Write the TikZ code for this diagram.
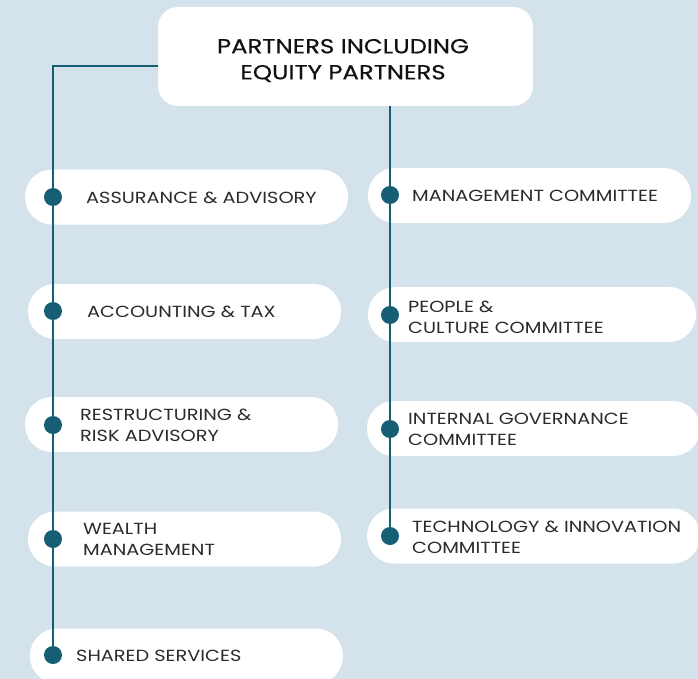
\documentclass[tikz,border=0pt]{standalone}
\usepackage{fontspec}
\setmainfont{Poppins}
\newfontfamily\labelfont[FakeStretch=1.2]{Poppins}
\newfontfamily\titlefont[FakeStretch=1.2, FakeBold=0.5]{Poppins}
\usetikzlibrary{calc}
\definecolor{bgblue}{HTML}{D4E2EB}
\definecolor{teal}{HTML}{155E73}
\definecolor{labelgray}{HTML}{2B2B2B}
\definecolor{titleink}{HTML}{111111}
\tikzset{
  pill/.style={fill=white, draw=none, rounded corners=27pt, minimum height=55pt, inner sep=0pt},
  headbox/.style={fill=white, draw=none, rounded corners=20pt, minimum width=375pt, minimum height=99pt, inner sep=0pt},
  dot/.style={circle, fill=teal, minimum size=18pt, inner sep=0pt},
  label/.style={anchor=west, inner sep=0pt, align=left, text=labelgray, font=\labelfont\fontsize{16.1}{21}\selectfont},
  title/.style={align=center, inner sep=0pt, text=titleink, font=\titlefont\fontsize{20.3}{26}\selectfont},
  link/.style={draw=teal, line width=2pt}
}
\begin{document}
\begin{tikzpicture}[x=1pt,y=-1pt]
  \useasboundingbox (0,0) rectangle (698,679);
  \clip (0,0) rectangle (698,679);
  \fill[bgblue] (0,0) rectangle (698,679);

  % head of the chart
  \node[headbox] (head) at (345.5,56.5) {};
  \node[title] (headtext) at (343,60.5) {PARTNERS INCLUDING\\ EQUITY PARTNERS};

  % service lines (left column)
  \node[pill, minimum width=323pt] (p1) at (186.5,197) {};
  \node[pill, minimum width=313pt] (p2) at (184.5,311.5) {};
  \node[pill, minimum width=313pt] (p3) at (181.5,424.5) {};
  \node[pill, minimum width=313pt] (p4) at (184.5,539) {};
  \node[pill, minimum width=313pt] (p5) at (186.5,656) {};

  % committees (right column)
  \node[pill, minimum width=323pt] (c1) at (529.5,195.5) {};
  \node[pill, minimum width=328pt] (c2) at (532,314.5) {};
  \node[pill, minimum width=333pt] (c3) at (533.5,428.5) {};
  \node[pill, minimum width=333pt] (c4) at (533.5,536) {};

  % connector spines
  \coordinate (lp1) at (53,197);
  \coordinate (lp2) at (53,311);
  \coordinate (lp3) at (53,425);
  \coordinate (lp4) at (53,539);
  \coordinate (lp5) at (53,655);
  \coordinate (rc1) at (390,195);
  \coordinate (rc2) at (390,315);
  \coordinate (rc3) at (390,429);
  \coordinate (rc4) at (390,536);

  \draw[link] ($(head.west)+(0,9.5)$) -| (lp5);
  \draw[link] (head.south -| rc1) -- (rc4);

  \foreach \d in {lp1,lp2,lp3,lp4,lp5,rc1,rc2,rc3,rc4}
    \node[dot] (dot-\d) at (\d) {};

  % labels
  \node[label] (t1) at (86,198) {ASSURANCE \& ADVISORY};
  \node[label] (t2) at (87,312) {ACCOUNTING \& TAX};
  \node[label] (t3) at (80,425) {RESTRUCTURING \&\\RISK ADVISORY};
  \node[label] (t4) at (83,539) {WEALTH\\MANAGEMENT};
  \node[label] (t5) at (76,656) {SHARED SERVICES};

  \node[label] (u1) at (412,196) {MANAGEMENT COMMITTEE};
  \node[label] (u2) at (408,317) {PEOPLE \&\\CULTURE COMMITTEE};
  \node[label] (u3) at (408,429) {INTERNAL GOVERNANCE\\COMMITTEE};
  \node[label] (u4) at (412,537) {TECHNOLOGY \& INNOVATION\\COMMITTEE};
\end{tikzpicture}
\end{document}
